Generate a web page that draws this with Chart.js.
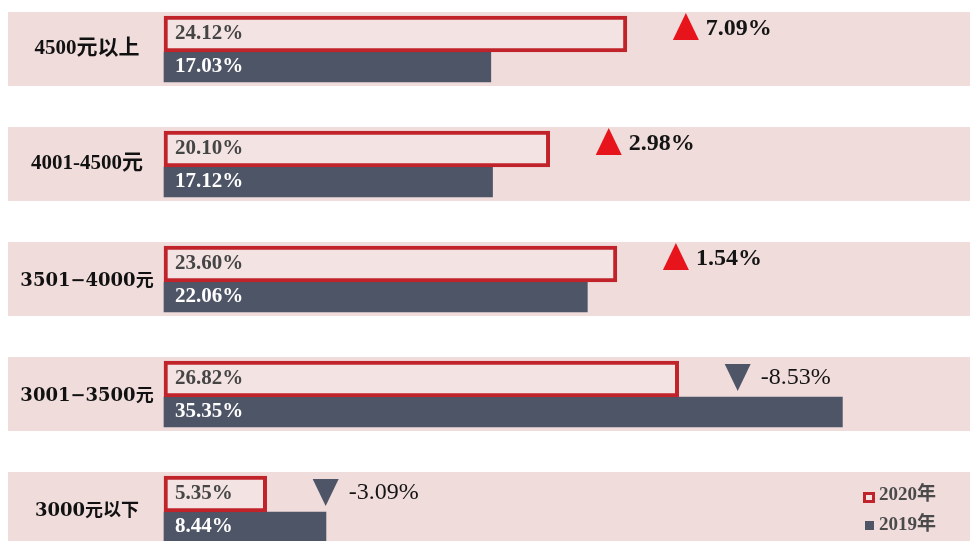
<!DOCTYPE html>
<html>
<head>
<meta charset="utf-8">
<script src="https://cdn.jsdelivr.net/npm/chart.js@4.4.0/dist/chart.umd.min.js"></script>
<style>
  html, body { margin: 0; padding: 0; background: #ffffff; }
  #wrap { width: 970px; height: 541px; position: relative; }
</style>
</head>
<body>
<div id="wrap"><canvas id="c" width="970" height="541"></canvas></div>
<script>
// ---- data ----
const categories = ['4500元以上', '4001-4500元', '3501−4000元', '3001−3500元', '3000元以下'];
const values2020 = [24.12, 20.10, 23.60, 26.82, 5.35];
const values2019 = [17.03, 17.12, 22.06, 35.35, 8.44];
const changes = [7.09, 2.98, 1.54, -8.53, -3.09];
const seriesNames = ['2020年', '2019年'];

// ---- styles ----
const BAND = '#f1dcdc';
const RED = '#c0232a';
const FILL2020 = '#f4e3e3';
const SLATE = '#4e5567';
const UP = '#e8141b';
const SERIF = '"Liberation Serif", "Noto Sans CJK SC", serif';

const fmt = v => v.toFixed(2) + '%';

const bandsPlugin = {
  id: 'bands',
  beforeDatasetsDraw(chart) {
    const ctx = chart.ctx, y = chart.scales.y;
    ctx.save();
    ctx.fillStyle = BAND;
    categories.forEach((_, i) => {
      const c = y.getPixelForValue(i);
      ctx.fillRect(8, c - 40, chart.width - 8, 74);
    });
    ctx.restore();
  }
};

const textPlugin = {
  id: 'texts',
  afterDatasetsDraw(chart) {
    const ctx = chart.ctx, x = chart.scales.x, y = chart.scales.y;
    const left = chart.chartArea.left;
    ctx.save();
    categories.forEach((cat, i) => {
      const c = y.getPixelForValue(i);
      // category label
      ctx.fillStyle = '#111111';
      ctx.textAlign = 'center';
      ctx.textBaseline = 'middle';
      ctx.font = i < 2 ? 'bold 21px ' + SERIF : 'bold 18px "DejaVu Serif", "Noto Sans CJK SC", serif';
      ctx.fillText(cat, 87, c - (i < 2 ? 3 : 1));
      // bar value labels
      ctx.textAlign = 'left';
      ctx.font = 'bold 21px ' + SERIF;
      ctx.fillStyle = '#454545';
      ctx.fillText(fmt(values2020[i]), left + 11, c - 18);
      ctx.fillStyle = '#ffffff';
      ctx.fillText(fmt(values2019[i]), left + 11, c + 15);
      // change annotation
      const d = changes[i];
      const tx = x.getPixelForValue(values2020[i]) + 46;
      const up = d >= 0;
      ctx.beginPath();
      if (up) {
        ctx.moveTo(tx, c - 12); ctx.lineTo(tx + 26, c - 12); ctx.lineTo(tx + 13, c - 39);
        ctx.fillStyle = UP;
      } else {
        ctx.moveTo(tx, c - 33); ctx.lineTo(tx + 26, c - 33); ctx.lineTo(tx + 13, c - 6);
        ctx.fillStyle = SLATE;
      }
      ctx.closePath();
      ctx.fill();
      ctx.fillStyle = '#141414';
      ctx.font = (up ? 'bold ' : '') + '24px ' + SERIF;
      ctx.textBaseline = 'middle';
      ctx.fillText(d.toFixed(2) + '%', tx + (up ? 33 : 36), up ? c - 23 : c - 19);
    });
    // legend
    ctx.textAlign = 'left';
    ctx.textBaseline = 'middle';
    ctx.font = 'bold 19px ' + SERIF;
    ctx.fillStyle = FILL2020;
    ctx.fillRect(863, 492, 12, 11);
    ctx.strokeStyle = RED;
    ctx.lineWidth = 3;
    ctx.strokeRect(864.5, 493.5, 9, 8);
    ctx.fillStyle = '#4a4a4a';
    ctx.fillText(seriesNames[0], 879, 495);
    ctx.fillStyle = SLATE;
    ctx.fillRect(865, 521, 9, 9);
    ctx.fillStyle = '#4a4a4a';
    ctx.fillText(seriesNames[1], 879, 525);
    ctx.restore();
  }
};

new Chart(document.getElementById('c'), {
  type: 'bar',
  data: {
    labels: categories,
    datasets: [
      {
        label: seriesNames[0],
        data: values2020,
        backgroundColor: FILL2020,
        borderColor: RED,
        borderWidth: 4,
        borderSkipped: false,
        barThickness: 36,
        clip: false
      },
      {
        label: seriesNames[1],
        data: values2019,
        backgroundColor: SLATE,
        borderWidth: 0,
        barThickness: 30,
        clip: false
      }
    ]
  },
  options: {
    indexAxis: 'y',
    responsive: false,
    animation: false,
    layout: { padding: { left: 164, right: 0, top: 52, bottom: 29 } },
    scales: {
      x: { type: 'linear', min: 0, max: 42, display: false, grid: { display: false } },
      y: { type: 'category', offset: false, display: false, grid: { display: false } }
    },
    plugins: {
      legend: { display: false },
      tooltip: { enabled: false },
      title: { display: false }
    }
  },
  plugins: [bandsPlugin, textPlugin]
});
</script>
</body>
</html>
